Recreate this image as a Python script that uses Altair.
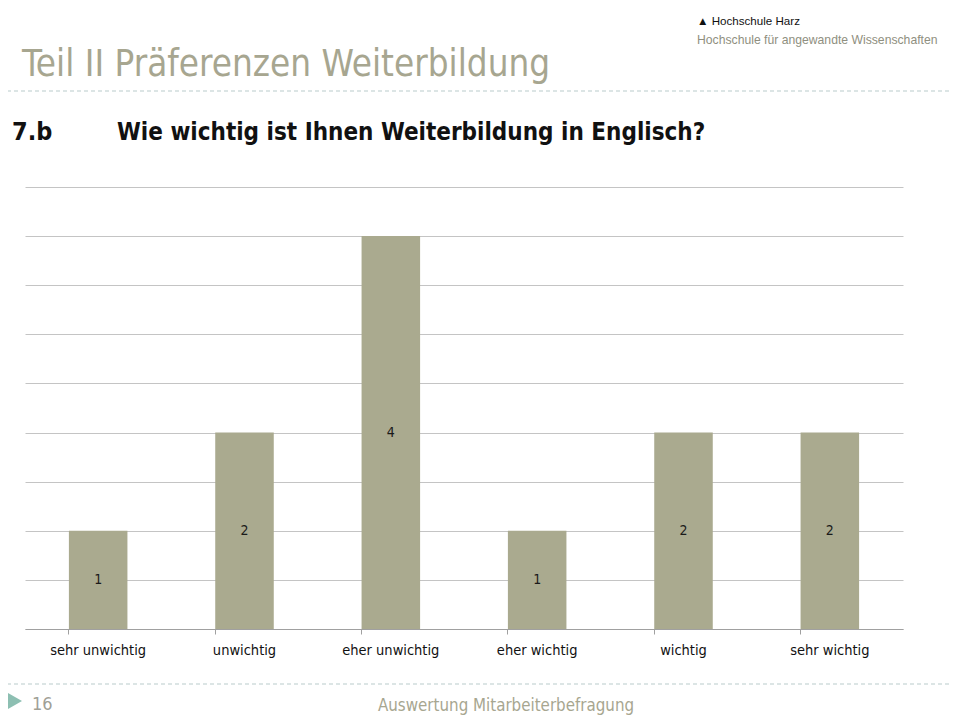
import altair as alt
import pandas as pd

categories = ["sehr unwichtig", "unwichtig", "eher unwichtig", "eher wichtig", "wichtig", "sehr wichtig"]
values = [1, 2, 4, 1, 2, 2]
grid_values = [0, 0.5, 1, 1.5, 2, 2.5, 3, 3.5, 4, 4.5]

slide_title = "Teil II  Präferenzen Weiterbildung"
question_no = "7.b"
question = "Wie wichtig ist Ihnen Weiterbildung in Englisch?"
brand1 = "▲ Hochschule Harz"
brand2 = "Hochschule für angewandte Wissenschaften"
page_no = "16"
footer = "Auswertung Mitarbeiterbefragung"

NARROW = "Liberation Sans Narrow, DejaVu Sans Condensed, Arial Narrow, sans-serif"
REG = "Liberation Sans, Arial, sans-serif"
BAR = "#aaaa8f"
OLIVE = "#a7a690"
DASH = "#b9cbcb"

df = pd.DataFrame({"cat": categories, "val": values})

x_enc = alt.X("cat:N", sort=categories, title=None,
              scale=alt.Scale(paddingInner=0.6, paddingOuter=0.3),
              axis=alt.Axis(labelAngle=0, labelFont=NARROW, labelFontSize=14.5,
                            labelColor="#111111", labelPadding=9, tickSize=5,
                            tickColor="#a0a0a0", domainColor="#a0a0a0",
                            bandPosition=0, grid=False))
y_scale = alt.Scale(domain=[0, 4.5], nice=False)

bars = alt.Chart(df).mark_bar(color=BAR).encode(
    x=x_enc,
    y=alt.Y("val:Q", scale=y_scale, title=None,
            axis=alt.Axis(values=grid_values, labels=False, ticks=False, domain=False,
                          grid=True, gridColor="#c4c4c4", gridWidth=1)),
)

labels = alt.Chart(df).transform_calculate(mid="datum.val / 2").mark_text(
    font=NARROW, fontSize=14, color="#1a1a1a", baseline="middle"
).encode(
    x=alt.X("cat:N", sort=categories),
    y=alt.Y("mid:Q", scale=y_scale),
    text=alt.Text("val:Q"),
)

def txt(s, x, y, font, size, color, weight="normal", align="left"):
    return alt.Chart(pd.DataFrame({"t": [s]})).mark_text(
        font=font, fontSize=size, color=color, fontWeight=weight, align=align,
        baseline="alphabetic"
    ).encode(x=alt.value(x), y=alt.value(y), text="t:N")

def dashed(y):
    return alt.Chart(pd.DataFrame({"a": [0]})).mark_rule(
        color=DASH, strokeDash=[4, 3], strokeWidth=1.2
    ).encode(x=alt.value(-25), x2=alt.value(935), y=alt.value(y))

tri = alt.Chart(pd.DataFrame({"a": [0]})).mark_point(
    shape="triangle-right", filled=True, color="#8dbfb2", size=900, opacity=1
).encode(x=alt.value(-16), y=alt.value(514))

decor = [
    txt(slide_title, -3, -111, NARROW, 36.5, OLIVE),
    dashed(-96),
    txt(question_no, -13, -47, NARROW, 25, "#111111", "bold"),
    txt(question, 92, -47, NARROW, 24, "#111111", "bold"),
    txt(brand1, 672, -162, REG, 11.6, "#111111"),
    txt(brand2, 672, -143, REG, 12.2, "#8f8f80"),
    dashed(497),
    tri,
    txt(page_no, 7, 523, NARROW, 18, "#a0a096"),
    txt(footer, 481, 524, NARROW, 16.8, OLIVE, align="center"),
]

chart = alt.layer(bars, labels, *decor).properties(
    width=878, height=442,
    autosize=alt.AutoSizeParams(type="none"),
    padding={"left": 17, "top": 179, "right": 49, "bottom": 87},
    background="white",
).configure_view(stroke=None)

chart.save("out.html", embed_options={"renderer": "svg", "actions": False})
